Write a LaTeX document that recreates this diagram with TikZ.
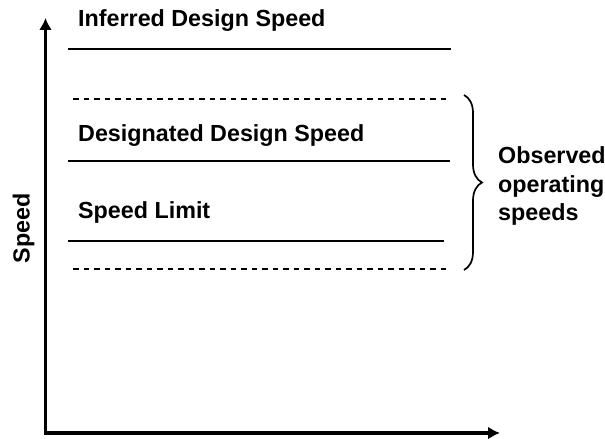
\documentclass[tikz,border=0pt]{standalone}
\usepackage{fontspec}
\setmainfont{Liberation Sans}
\usetikzlibrary{arrows.meta,decorations.pathreplacing}
\begin{document}
\begin{tikzpicture}[x=1pt,y=1pt,
  axis/.style={line width=3.6pt},
  level/.style={line width=2pt},
  band/.style={line width=1.6pt,dash pattern=on 5.5pt off 5pt},
  label/.style={font=\fontsize{23.3}{28.5}\selectfont\bfseries,inner sep=0pt,anchor=base west},
  bracestyle/.style={line width=1.7pt,decorate,decoration={brace,amplitude=18pt}}
]
\useasboundingbox (0,0) rectangle (605,439);

% axes
\coordinate (origin) at (45.5,6);
\coordinate (ytop) at (45.5,421);
\coordinate (xend) at (500,6);
\draw[axis,{Latex[length=12pt,width=13pt]}-{Latex[length=12pt,width=13pt]}] (ytop) -- (origin) -- (xend);
\node[font=\fontsize{23.3}{28}\selectfont\bfseries,rotate=90,anchor=base,inner sep=0pt] (ylabel) at (29.5,210.5) {Speed};

% speed levels
\node[label] (inferred) at (78,412.3) {Inferred Design Speed};
\draw[level] (68,390) -- (451,390);

\draw[band] (73,340) -- (450,340);

\node[label] (designated) at (78,297.3) {Designated Design Speed};
\draw[level] (68,278.3) -- (450,278.3);

\node[label] (limit) at (78,220) {Speed Limit};
\draw[level] (68,198.3) -- (444,198.3);

\draw[band] (73,170) -- (450,170);

% range of observed operating speeds
\coordinate (btop) at (464,344);
\coordinate (bbot) at (464,169);
\draw[bracestyle] (btop) -- (bbot);
\node[label,align=left,anchor=north west] (observed) at (498,292.5) {Observed\\operating\\speeds};
\end{tikzpicture}
\end{document}
